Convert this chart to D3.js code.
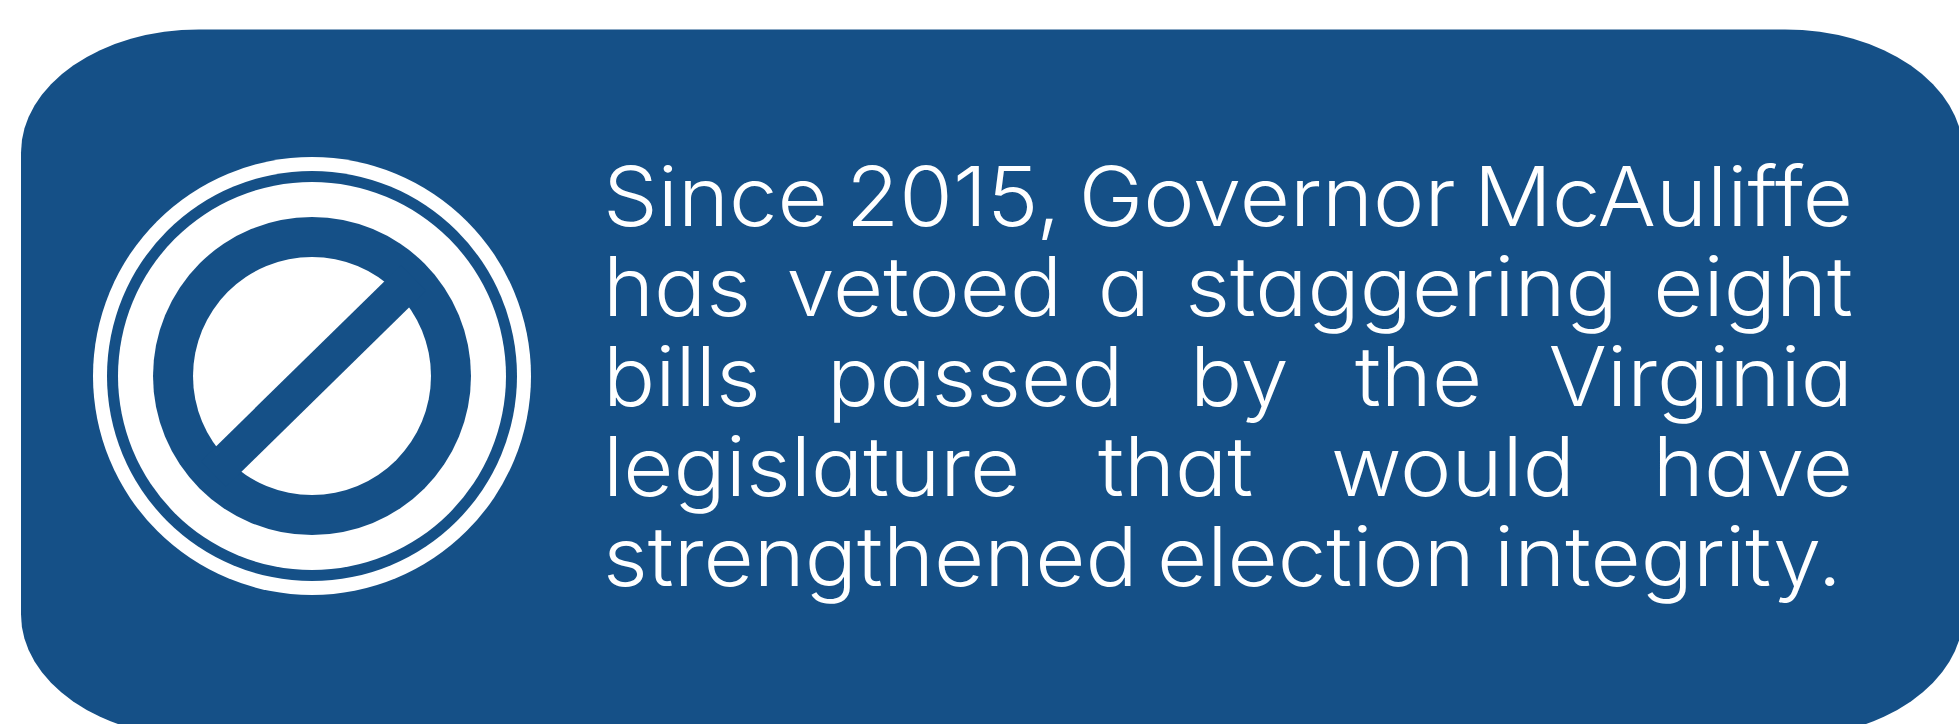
<!DOCTYPE html>
<html>
<head>
<meta charset="utf-8">
<script src="https://cdn.jsdelivr.net/npm/d3@7"></script>
<style>
  html, body { margin: 0; padding: 0; background: #fff; overflow: hidden; }
  svg { display: block; }
  .copy { font-family: Inter, "Open Sans", sans-serif; font-weight: 350; font-feature-settings: "cv11" 1; }
</style>
</head>
<body>
<div id="visualization"></div>
<script>
const lineWords = [
    ['Since', '2015,', 'Governor', 'McAuliffe'],
    ['has', 'vetoed', 'a', 'staggering', 'eight'],
    ['bills', 'passed', 'by', 'the', 'Virginia'],
    ['legislature', 'that', 'would', 'have'],
    ['strengthened', 'election', 'integrity.']
];
const ringValues = [219, 205, 194, 159, 119];

const width = 1959, height = 724;
const blue = '#155087';

const svg = d3.select('#visualization').append('svg')
    .attr('width', width)
    .attr('height', height);

// Panel, runs off the right and bottom edges like the original
svg.append('rect')
    .attr('x', 21)
    .attr('y', 29.5)
    .attr('width', 1942)
    .attr('height', 708)
    .attr('rx', 178)
    .attr('ry', 123)
    .attr('fill', blue);

// Icon
const icon = svg.append('g').attr('transform', 'translate(312,376)');

icon.selectAll('circle')
    .data(ringValues)
    .enter()
    .append('circle')
    .attr('r', d => d)
    .attr('fill', (d, i) => i % 2 === 0 ? '#fff' : blue);

icon.append('line')
    .attr('x1', -98.5)
    .attr('y1', 98)
    .attr('x2', 101.5)
    .attr('y2', -98)
    .attr('stroke', blue)
    .attr('stroke-width', 36);

// Text block: every line but the last is justified
const left = 603, right = 1853, lastRight = 1842;
const y = d3.scaleLinear().domain([0, lineWords.length - 1]).range([225.5, 585.5]);

const text = svg.append('g').attr('class', 'copy');
const rows = text.selectAll('g')
    .data(lineWords)
    .enter()
    .append('g');

const words = rows.selectAll('text')
    .data(d => d)
    .enter()
    .append('text')
    .attr('font-size', 82)
    .attr('fill', '#fff')
    .text(d => d);

const sizes = rows.nodes().map(row =>
    Array.from(row.querySelectorAll('text')).map(t => t.getComputedTextLength()));

// Horizontal stretch taken from the last line, which is set with natural spaces
const naturalSpace = 82 * 0.22;
const lastSizes = sizes[sizes.length - 1];
const stretch = (lastRight - left) / (d3.sum(lastSizes) + naturalSpace * (lastSizes.length - 1));

rows.each(function(d, i) {
    const w = sizes[i];
    const gap = i === lineWords.length - 1
        ? naturalSpace * stretch
        : (right - left - d3.sum(w) * stretch) / (w.length - 1);
    let x = left;
    d3.select(this).selectAll('text').attr('transform', (t, j) => {
        const out = 'translate(' + x + ',' + y(i) + ') scale(' + stretch + ',1)';
        x += w[j] * stretch + gap;
        return out;
    });
});
</script>
</body>
</html>
